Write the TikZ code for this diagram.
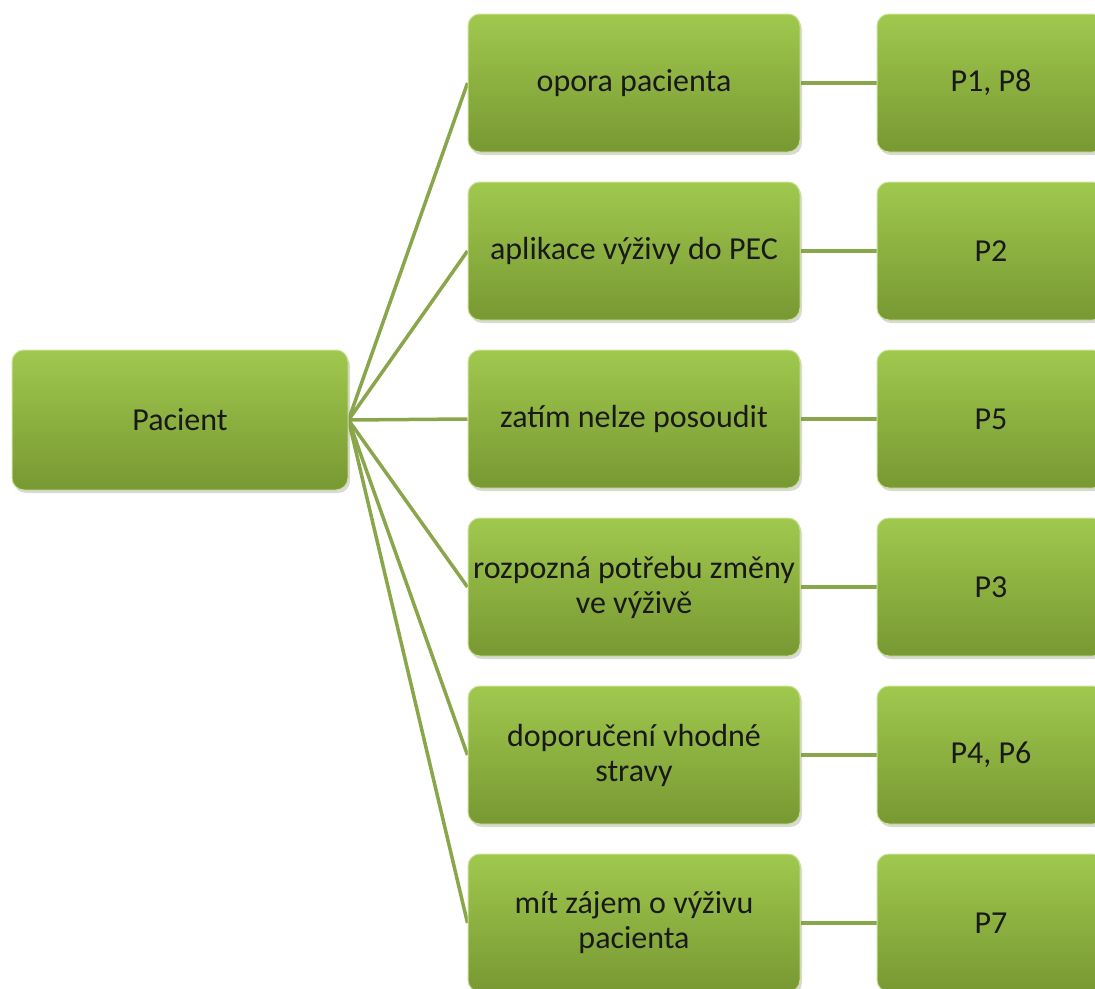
\documentclass[tikz,border=0pt]{standalone}
\usepackage{fontspec}
\setmainfont{Carlito}
\usetikzlibrary{shadows,backgrounds}
\definecolor{gtop}{RGB}{160,200,78}
\definecolor{gbot}{RGB}{120,152,50}
\definecolor{gline}{RGB}{138,166,74}
\definecolor{gedge}{RGB}{200,225,150}
\begin{document}
\begin{tikzpicture}[x=1pt,y=-1pt,
  gbox/.style={rectangle, rounded corners=12pt, draw=gedge, line width=1pt,
    top color=gtop, bottom color=gbot,
    drop shadow={shadow xshift=2pt, shadow yshift=-3pt, opacity=0.3},
    align=center, font=\fontsize{32}{35}\selectfont, inner sep=0pt, text=black!90},
  pbox/.style={gbox, minimum width=336pt, minimum height=140pt},
  mbox/.style={gbox, minimum width=332pt, minimum height=138pt},
  rbox/.style={gbox, minimum width=228pt, minimum height=138pt},
  conn/.style={draw=gline, line width=3.5pt}]
\useasboundingbox (0,0) rectangle (1095,988);
\clip (0,0) rectangle (1095,988);

\node[pbox] (pac) at (180,420) {Pacient};

\node[mbox] (m1) at (634,83) {opora pacienta};
\node[mbox] (m2) at (634,251) {aplikace výživy do PEC};
\node[mbox] (m3) at (634,419) {zatím nelze posoudit};
\node[mbox] (m4) at (634,587) {rozpozná potřebu změny\\ve výživě};
\node[mbox] (m5) at (634,755) {doporučení vhodné\\stravy};
\node[mbox] (m6) at (634,923) {mít zájem o výživu\\pacienta};

\node[rbox] (r1) at (991,83) {P1, P8};
\node[rbox] (r2) at (991,251) {P2};
\node[rbox] (r3) at (991,419) {P5};
\node[rbox] (r4) at (991,587) {P3};
\node[rbox] (r5) at (991,755) {P4, P6};
\node[rbox] (r6) at (991,923) {P7};

\begin{scope}[on background layer]
\foreach \i in {1,...,6} {
  \draw[conn] (pac.east) -- (m\i.west);
  \draw[conn] (m\i.east) -- (r\i.west);
}
\end{scope}
\end{tikzpicture}
\end{document}
